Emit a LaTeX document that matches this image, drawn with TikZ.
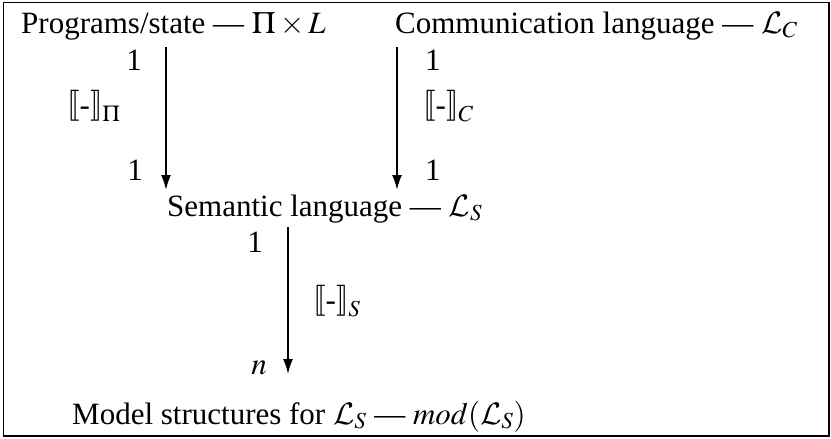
\RequirePackage{fix-cm}
\documentclass[tikz,border=0pt]{standalone}
\usepackage{mathptmx}
\DeclareMathAlphabet{\mathcal}{OMS}{cmsy}{m}{n}
\usepackage{fontspec}
\setmainfont{Liberation Serif}
\usepackage{stmaryrd}
\usepackage{graphicx}
\usetikzlibrary{arrows.meta}
\newcommand\mybrL{\mbox{\fontsize{10}{12}\selectfont\scalebox{3.1}{$\llbracket$}}}
\newcommand\mybrR{\mbox{\fontsize{10}{12}\selectfont\scalebox{3.1}{$\rrbracket$}}}
\newcommand\semb[1]{\mathopen{\mybrL}\mbox{\raisebox{-2pt}{-}}\mathclose{\mybrR}_{#1}}
\tikzset{
  txt/.style={inner sep=0pt, anchor=base west, font=\fontsize{31}{37}\selectfont},
  lblr/.style={inner sep=0pt, anchor=base east, font=\fontsize{31}{37}\selectfont},
  map/.style={line width=1.8pt, -{Latex[length=15pt,width=10pt]}}
}
\begin{document}
\begin{tikzpicture}[x=1pt,y=-1pt]
\useasboundingbox (0,0) rectangle (831,439);
\draw[line width=1.5pt] (3.5,2.5) rectangle (829,436);
\node[txt] (prog) at (21,33) {Programs/state --- $\Pi\times L$};
\node[txt] (comm) at (395,33) {Communication language --- $\mathcal{L}_C$};
\node[txt] (sem) at (167,216) {Semantic language --- $\mathcal{L}_S$};
\node[txt] (mod) at (72,424) {Model structures for $\mathcal{L}_S$ --- $mod(\mathcal{L}_S)$};
\coordinate (a1s) at (166,47);
\coordinate (a1e) at (166,190);
\coordinate (a2s) at (397,47);
\coordinate (a2e) at (397,190);
\coordinate (a3s) at (288,227);
\coordinate (a3e) at (288,374);
\draw[map] (a1s) -- (a1e);
\draw[map] (a2s) -- (a2e);
\draw[map] (a3s) -- (a3e);
\node[lblr] (l1a) at (142,70) {1};
\node[txt] (l1m) at (67,113) {$\semb{\Pi}$};
\node[lblr] (l1b) at (143,180) {1};
\node[txt] (l2a) at (425,70) {1};
\node[txt] (l2m) at (423,113) {$\semb{C}$};
\node[txt] (l2b) at (425,180) {1};
\node[lblr] (l3a) at (263,252) {1};
\node[txt] (l3m) at (313,308) {$\semb{S}$};
\node[lblr] (l3b) at (267,374) {$n$};
\end{tikzpicture}
\end{document}
